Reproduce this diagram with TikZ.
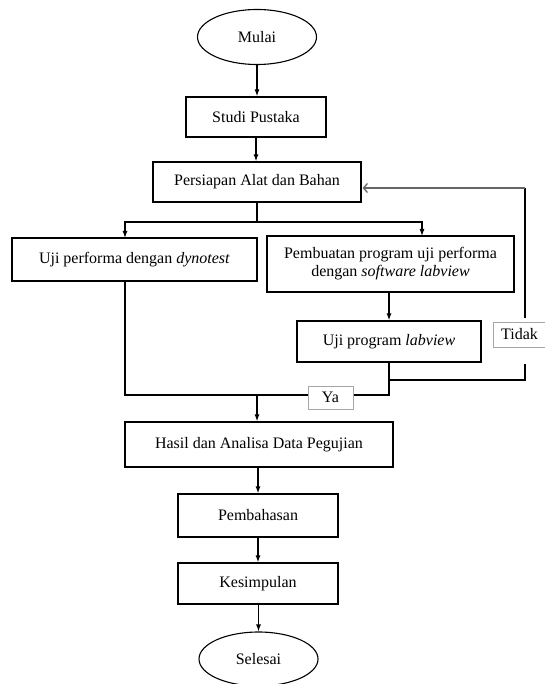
\documentclass[tikz,border=0pt]{standalone}
\usepackage{fontspec}
\setmainfont{Liberation Serif}
\usetikzlibrary{shapes.geometric,arrows.meta,calc}
\newcommand\diagfont{\fontsize{16}{18}\selectfont}
\begin{document}
\begin{tikzpicture}[x=1pt,y=-1pt,
  box/.style={draw,line width=1.2pt,inner sep=0pt,align=center,font=\diagfont},
  term/.style={ellipse,draw,line width=1.1pt,inner sep=0pt,font=\diagfont},
  lbl/.style={draw=black!35,line width=1pt,fill=white,inner sep=0pt,font=\diagfont},
  arr/.style={-{Latex[length=7pt,width=5pt]},line width=1.2pt},
  ln/.style={line width=1.2pt},
  back/.style={-{Straight Barb[length=4pt,width=9pt]},line width=1.3pt,draw=black!60}]
\useasboundingbox (0,0) rectangle (545,684);
\fill[white] (0,0) rectangle (545,684);
\node[term,minimum width=119pt,minimum height=55pt] (mulai) at (257,37) {Mulai};
\node[box,minimum width=140pt,minimum height=40pt] (studi) at (256,117) {Studi Pustaka};
\node[box,minimum width=208pt,minimum height=40pt] (alat) at (257,182) {Persiapan Alat dan Bahan};
\node[box,minimum width=245pt,minimum height=43pt] (dyno) at (134.5,259.5) {Uji performa dengan \textit{dynotest}};
\node[box,minimum width=247pt,minimum height=56pt] (prog) at (390.5,264) {Pembuatan program uji performa\\dengan \textit{software labview}};
\node[box,minimum width=184pt,minimum height=41pt] (uji) at (389,341.5) {Uji program \textit{labview}};
\node[lbl,minimum width=56pt,minimum height=25pt,anchor=west] (tidak) at (493,334.5) {Tidak\hspace*{4pt}};
\node[lbl,minimum width=45pt,minimum height=23pt] (ya) at (330.5,397.5) {Ya};
\node[box,minimum width=268pt,minimum height=45pt] (hasil) at (259,444.5) {Hasil dan Analisa Data Pegujian};
\node[box,minimum width=160pt,minimum height=43pt] (bahas) at (258,515.5) {Pembahasan};
\node[box,minimum width=160pt,minimum height=41pt] (simpul) at (258,583.5) {Kesimpulan};
\node[term,minimum width=119pt,minimum height=54pt] (selesai) at (258.5,659) {Selesai};
% coordinates
\coordinate (brc) at (257,222);
\coordinate (dl) at (125,238);
\coordinate (pr) at (422,236);
\coordinate (j) at (257,395);
\coordinate (fb) at (525,380);
% connectors
\draw[arr] (mulai.south) -- (mulai.south |- studi.north);
\draw[arr] (studi.south) -- (studi.south |- alat.north);
\draw[ln] (alat.south -| brc) -- (brc);
\draw[arr] (brc) -| (dl);
\draw[arr] (brc) -| (pr);
\draw[arr] (uji.north |- prog.south) -- (uji.north);
\draw[ln] (dyno.south -| dl) |- (ya.west |- j);
\draw[ln] (ya.east |- j) -| (uji.south);
\draw[arr] (j) -- (j |- hasil.north);
\draw[ln] (uji.south |- fb) -| ($(tidak.south -| fb)+(0,16)$);
\draw[ln] ($(tidak.north -| fb)+(0,-4)$) -- ($(alat.east -| fb)+(0,6)$);
\draw[back] ($(alat.east -| fb)+(0,6)$) -- ($(alat.east)+(1,6)$);
\draw[arr] (bahas.north |- hasil.south) -- (bahas.north);
\draw[arr] (simpul.north |- bahas.south) -- (simpul.north);
\draw[arr] (selesai.north |- simpul.south) -- (selesai.north);
\end{tikzpicture}
\end{document}
